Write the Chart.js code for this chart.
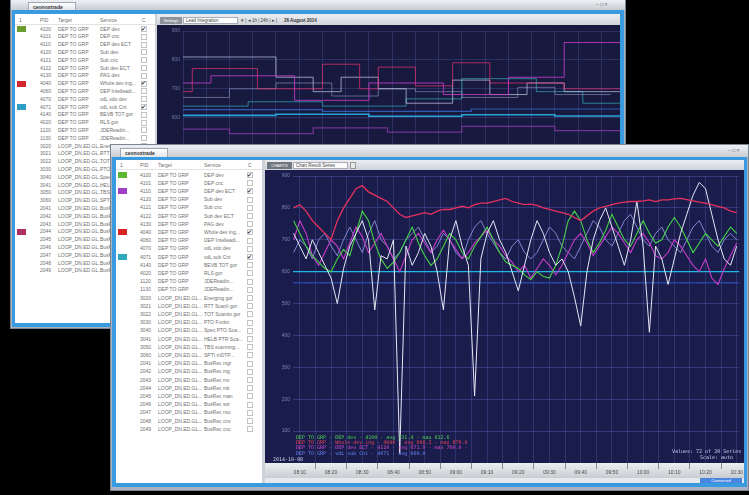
<!DOCTYPE html>
<html><head><meta charset="utf-8">
<script src="https://cdn.jsdelivr.net/npm/chart.js@4.4.1/dist/chart.umd.min.js"></script>
<style>
html,body{margin:0;padding:0;background:#000;width:749px;height:495px;overflow:hidden;font-family:"Liberation Sans",Arial,sans-serif;}
.abs{position:absolute;box-sizing:border-box;}
.chrome{background:#aab3bf;border:1px solid #7a8592;}
.title{background:linear-gradient(#eef0f3,#c8cdd4);}
.tab{background:linear-gradient(#ffffff,#e2e6ea);border:1px solid #9ea7b2;border-bottom:none;font-size:5px;font-weight:bold;color:#333;line-height:8px;padding:0 4px;white-space:nowrap;}
.blue{background:#3a9ae0;}
.white{background:#fff;}
.tool{background:linear-gradient(#eceef1,#cfd4da);}
.tbl{font-size:5px;color:#707070;line-height:5px;overflow:hidden;}
.tbl span{position:absolute;white-space:nowrap;}
.sw{position:absolute;width:9px;height:6px;}
.cb{position:absolute;width:6px;height:6px;border:1px solid #c4c4c4;box-sizing:border-box;background:#fff;}
.ck{position:absolute;font-size:6px;line-height:6px;color:#333;}
.leg{position:absolute;font-size:5px;line-height:5px;white-space:nowrap;font-family:"DejaVu Sans Mono",monospace;}
canvas{position:absolute;}
</style></head>
<body>
<!-- back window -->
<div class="abs chrome" style="left:10px;top:0;width:616px;height:329px;"></div>
<div class="abs title" style="left:11px;top:0;width:614px;height:10px;"></div>
<div class="abs tab" style="left:28px;top:2px;width:48px;height:8px;">ceonoxtrade</div>
<div class="abs" style="left:596px;top:1px;font-size:5px;color:#666;">–&nbsp;□&nbsp;×</div>
<div class="abs blue" style="left:12px;top:10px;width:612px;height:317px;"></div>
<div class="abs white tbl" id="t1" style="left:15px;top:14px;width:140px;height:309px;"></div>
<div class="abs" style="left:155px;top:14px;width:3px;height:309px;background:#cdd2d8;"></div>
<div class="abs tool" style="left:157px;top:14px;width:463px;height:11px;"></div>
<div class="abs" style="left:160px;top:17px;width:22px;height:7px;background:#8d939b;font-size:4px;color:#fff;line-height:7px;text-align:center;">Settings</div>
<div class="abs" style="left:183px;top:17px;width:55px;height:7px;background:#fff;border:1px solid #aab;font-size:4.5px;color:#444;line-height:5px;padding-left:2px;">Lead Integration</div>
<div class="abs" style="left:241px;top:17px;font-size:4.5px;color:#444;line-height:7px;">▾ | ◂ 1h | 24h | ▸ |</div>
<div class="abs" style="left:284px;top:17px;font-size:4.5px;color:#333;line-height:7px;font-weight:bold;">26 August 2014</div>
<canvas id="c1" width="463" height="272" style="left:157px;top:25px;"></canvas>

<!-- front window -->
<div class="abs chrome" style="left:110px;top:144px;width:639px;height:347px;"></div>
<div class="abs title" style="left:111px;top:145px;width:637px;height:12px;"></div>
<div class="abs tab" style="left:120px;top:148px;width:48px;height:9px;">ceonoxtrade</div>
<div class="abs" style="left:728px;top:147px;font-size:5px;color:#666;">–&nbsp;□&nbsp;×</div>
<div class="abs blue" style="left:112px;top:157px;width:635px;height:330px;"></div>
<div class="abs white tbl" id="t2" style="left:116px;top:160px;width:146px;height:323px;"></div>
<div class="abs" style="left:262px;top:160px;width:3px;height:323px;background:#cdd2d8;"></div>
<div class="abs tool" style="left:265px;top:160px;width:479px;height:10px;"></div>
<div class="abs" style="left:267px;top:162px;width:25px;height:7px;background:#70767e;font-size:4px;color:#fff;line-height:7px;text-align:center;">CHARTS</div>
<div class="abs" style="left:293px;top:162px;width:55px;height:7px;background:#fbfbfb;border:1px solid #aab;font-size:4.5px;color:#444;line-height:5px;padding-left:2px;">Chart Result Series</div>
<div class="abs" style="left:350px;top:162px;width:6px;height:7px;background:#e8e8e8;border:1px solid #999;"></div>
<canvas id="c2" width="479" height="308" style="left:265px;top:170px;"></canvas>
<div class="abs" style="left:265px;top:478px;width:479px;height:5px;background:#e6e8eb;"></div>
<div class="abs" style="left:700px;top:478px;width:42px;height:5px;background:#4a86e0;font-size:4px;line-height:5px;color:#fff;text-align:center;">Connected</div>

<div class="leg" style="left:296px;top:435px;color:#4fd04f;">DEP TO GRP · DEP dev · 4100 · avg 731.4 · max 812.6</div>
<div class="leg" style="left:296px;top:440px;color:#e8405a;">DEP TO GRP · Whole dev ing · 4040 · avg 806.2 · max 870.0</div>
<div class="leg" style="left:296px;top:445px;color:#d048c8;">DEP TO GRP · DEP dev ECT · 4110 · avg 671.9 · max 760.0 ·</div>
<div class="leg" style="left:296px;top:451px;color:#6a80f0;">DEP TO GRP · vdL sub Cnt · 4071 · avg 600.0</div>
<div class="leg" style="left:273px;top:457px;color:#d0d4f0;">2014-10-08</div>
<div class="leg" style="left:672px;top:449px;color:#c8ccf0;">Values: 72 of 20 Series</div>
<div class="leg" style="left:700px;top:455px;color:#c8ccf0;">Scale: auto</div>

<script>
// ---------------- data ----------------
const timeLabels = ['08:10','08:20','08:30','08:40','08:50','09:00','09:10','09:20','09:30','09:40','09:50','10:00','10:10','10:20','10:30'];
const yTickValues = [100,200,300,400,500,600,700,800,900];
const yTickLabels = ['100','200','300','400','500','600','700','800','900'];

const frontRed = [800,810,790,760,740, 720,700,760,800,830, 860,870,850,840,830, 820,800,780,770,775, 780,785,780,790,795, 795,800,805,800,810, 815,815,820,825,830, 820,815,810,812,808, 800,795,790,785,780, 770,760,775,790,800, 805,810,815,818,820, 820,822,825,820,825, 825,828,830,826,822, 818,815,810,805,800, 790,785];
const frontMagenta = [700,760,720,650,620, 660,700,680,640,690, 740,710,660,690,720, 680,640,600,650,700, 720,690,660,700,730, 700,670,640,660,690, 710,730,700,680,650, 630,600,620,580,610, 640,620,590,620,660, 700,720,690,650,680, 710,740,720,690,660, 700,720,690,650,640, 660,700,680,650,620, 600,640,580,560,610, 650,690];
const frontGreen = [760,720,680,650,630, 610,600,640,670,650, 720,790,760,690,640, 610,630,660,700,740, 690,650,620,640,680, 720,700,660,640,680, 710,740,700,660,630, 620,610,590,575,600, 585,580,620,680,760, 790,760,700,660,690, 730,780,740,700,680, 720,760,720,690,700, 740,770,740,700,660, 690,720,700,680,710, 740,720];
const frontWhite = [720,680,640,700,660, 620,580,500,610,680, 720,760,700,480,650, 640,700,30,680,620, 660,720,680,600,480, 700,760,680,620,210, 640,720,760,700,660, 600,540,620,700,760, 720,660,620,640,600, 520,430,600,700,760, 800,740,680,620,700, 820,680,410,680,640, 560,640,720,780,840, 880,860,780,700,640, 620,680];
const frontLavender = [660,700,680,640,700, 720,680,650,700,740, 700,660,720,760,700, 680,640,660,700,720, 740,700,660,680,720, 700,660,640,700,740, 760,720,690,660,640, 680,700,660,640,660, 700,740,720,680,660, 640,680,720,760,740, 700,680,720,760,780, 740,700,680,720,740, 700,680,660,700,740, 760,720,680,660,700, 720,700];
const cyanLevel = 600;
const blueLevel = 565;
const sampleStart = -2, sampleStep = 2;

const backWhite = [810,810,810,810,810,810,810,810,810,810,810, 740,740,740,740, 690,690,690, 740,740,740,740, 700,700,700, 650,650,650,650,650, 730,730,730,730, 680,680,680,680, 720,720,720,720, 690,690,690,690,690,690];
const backGrey = [670,670,670,670,670,670, 700,700,700,700,700, 720,720,720,720,720,720, 675,675,675,675,675, 700,700,700,700, 690,690,690,690,690, 670,670,670,670,670,670, 705,705,705,705, 680,680,680,680,680,680];
const backPink = [690,690, 770,770,770,770,770,770,770, 700,700,700,700,700,700,700, 785,785,785,785, 700,700, 775,775,775,775, 710,710,710,710, 790,790,790,790, 720,720,720,720,720,720,720,720, 700,700,700,700,700,700];
const backMagenta = [720,720,720,720, 745,745,745,745,745,745,745,745,745, 660,660,660,660,660,660,660,660, 720,720,720,720,720,720,720,720, 680,680,680,680,680,680,680, 740,740,740,740,740,740, 860,860,860,860,860,860];
const backTeal = [640,640,640,640,640,640,640,640, 655,655,655,655,655,655,655,655, 640,640,640,640,640,640,640,640,640, 665,665,665,665,665,665, 735,735,735,735,735,735,735,735, 690,690,690,690,690, 650,650,650,650];
const backCyan = [608,608,608,608,608,608,608,608,608,608,608, 612,612,612,612,612,612,612,612,612,612, 605,605,605,605,605,605,605,605,605,605, 610,610,610,610,610,610,610,610,610,610, 606,606,606,606,606,606,606];
const backBlue = [628,628,628,628,628,628,628,628,628,628,628,628,628,628,628,628, 622,622,622,622,622,622,622,622,622,622,622,622,622,622,622,622, 630,630,630,630,630,630,630,630,630,630,630,630,630,630,630,630];
const backPurple = [560,560,560,560,560,560, 545,545,545,545,545,545,545,545,545, 565,565,565,565,565,565,565,565, 550,550,550,550,550,550,550,550, 570,570,570,570,570,570,570,570,570,570, 555,555,555,555,555,555,555];

const pidList = ['4100','4101','4110','4120','4121','4122','4130','4040','4060','4070','4071','4140','4020','1120','1130','3020','3021','3022','3030','3040','3041','3050','3060','2041','2042','2043','2044','2045','2046','2047','2048','2049'];
const targetList = ['DEP TO GRP','DEP TO GRP','DEP TO GRP','DEP TO GRP','DEP TO GRP','DEP TO GRP','DEP TO GRP','DEP TO GRP','DEP TO GRP','DEP TO GRP','DEP TO GRP','DEP TO GRP','DEP TO GRP','DEP TO GRP','DEP TO GRP','LOOP_DN.ED.GL...','LOOP_DN.ED.GL...','LOOP_DN.ED.GL...','LOOP_DN.ED.GL...','LOOP_DN.ED.GL...','LOOP_DN.ED.GL...','LOOP_DN.ED.GL...','LOOP_DN.ED.GL...','LOOP_DN.ED.GL...','LOOP_DN.ED.GL...','LOOP_DN.ED.GL...','LOOP_DN.ED.GL...','LOOP_DN.ED.GL...','LOOP_DN.ED.GL...','LOOP_DN.ED.GL...','LOOP_DN.ED.GL...','LOOP_DN.ED.GL...'];
const serviceList = ['DEP dev','DEP cnc','DEP dev ECT','Sub dev','Sub cnc','Sub dev ECT','PAG dev','Whole dev ing...','DEP Intelleadi...','vdL vdo dev','vdL sub Cnt','BEVB TOT gor','RLS gor','JDEReadin...','JDEReadin...','Energing gor','RTT Scanli gor','TOT Scantio gor','PTO Fxxtio','Spec PTO Sca...','HELB PTR Sca...','TBS scanning...','SPTI mDTP...','BusRec mgr','BusRec mg','BusRec mv','BusRec mk','BusRec man','BusRec sor','BusRec nsc','BusRec cnv','BusRec cnc'];
const frontSwatches = {0:'#5cb82e',2:'#a040c8',7:'#d82424',10:'#2fa8bc'};
const frontChecks = [0,2,7,10];
const backSwatches = {0:'#6a9e2a',7:'#d0262e',10:'#2e9ec4',26:'#b03062'};
const backChecks = [0,7,10];

// ---------------- tables ----------------
function buildTable(id, cfg){
  const el = document.getElementById(id);
  let h = '';
  const hy = cfg.headY;
  h += `<span style="left:${cfg.cSw+2}px;top:${hy}px">1</span><span style="left:${cfg.cPid}px;top:${hy}px">PID</span><span style="left:${cfg.cTg}px;top:${hy}px">Target</span><span style="left:${cfg.cSv}px;top:${hy}px">Service</span><span style="left:${cfg.cCb+1}px;top:${hy}px">C</span>`;
  h += `<div style="position:absolute;left:0;right:0;top:${hy+6}px;height:1px;background:#e2e2e2"></div>`;
  for(let i=0;i<pidList.length;i++){
    const y = cfg.rowTop + i*cfg.rowH;
    if(cfg.sw[i]) h += `<div class="sw" style="left:${cfg.cSw}px;top:${y-0.5}px;background:${cfg.sw[i]}"></div>`;
    h += `<span style="left:${cfg.cPid}px;top:${y}px">${pidList[i]}</span>`;
    h += `<span style="left:${cfg.cTg}px;top:${y}px">${targetList[i]}</span>`;
    h += `<span style="left:${cfg.cSv}px;top:${y}px">${serviceList[i]}</span>`;
    h += `<div class="cb" style="left:${cfg.cCb}px;top:${y-0.5}px"></div>`;
    if(cfg.ck.includes(i)) h += `<div class="ck" style="left:${cfg.cCb}px;top:${y-1}px">✔</div>`;
  }
  el.innerHTML = h;
}
buildTable('t1',{headY:4,rowTop:12.5,rowH:7.8,cSw:2,cPid:25,cTg:43,cSv:85,cCb:126,sw:backSwatches,ck:backChecks});
buildTable('t2',{headY:3,rowTop:12.5,rowH:8.2,cSw:2,cPid:24,cTg:42,cSv:88,cCb:131,sw:frontSwatches,ck:frontChecks});

// ---------------- charts ----------------
const bgPlugin = {
  id:'bg',
  beforeDraw(c, args, opts){
    const {ctx, chartArea:a, width, height} = c;
    ctx.save();
    ctx.fillStyle = opts.navy;
    ctx.fillRect(0,0,width,height);
    if(opts.band){
      const g = ctx.createLinearGradient(0,a.bottom,0,height);
      g.addColorStop(0,'#eceef0'); g.addColorStop(1,'#c9cdd2');
      ctx.fillStyle = g;
      ctx.fillRect(0,a.bottom,width,height-a.bottom);
    }
    ctx.restore();
  }
};

function pts(arr){ return arr.map((v,i)=>({x:sampleStart+i*sampleStep, y:v})); }
const xMin = -2.2, xMax = 140.8;
const xLabelValues = timeLabels.map((t,k)=>k*10);
const xGridValues = [];
for(let v=0; v<=140; v+=5) xGridValues.push(v);

function line(data, color, w){ return {data, borderColor:color, borderWidth:w||1, pointRadius:0, tension:0, fill:false}; }

new Chart(document.getElementById('c2'), {
  type:'line',
  data:{datasets:[
    line(pts(frontRed), '#e8305e', 1.3),
    line(pts(frontWhite), '#e6e6f6', 1),
    line(pts(frontGreen), '#46d046', 1.1),
    line(pts(frontMagenta), '#c63cc6', 1.1),
    line(pts(frontLavender), '#8c92e0', 0.9),
    line([{x:xMin,y:cyanLevel},{x:xMax,y:cyanLevel}], '#22b6e4', 1.2),
    line([{x:xMin,y:blueLevel},{x:xMax,y:blueLevel}], '#3458c8', 1)
  ]},
  options:{
    responsive:false, animation:false, devicePixelRatio:1,
    layout:{padding:0},
    plugins:{legend:{display:false}, tooltip:{enabled:false}, bg:{navy:'#1a1d4c', band:true}},
    scales:{
      x:{type:'linear', min:xMin, max:xMax,
        afterBuildTicks(ax){ ax.ticks = xGridValues.map(v=>({value:v})); },
        afterFit(ax){ ax.height = 15; },
        ticks:{autoSkip:false, maxRotation:0, padding:1, color:'#4a4a4a', font:{size:5, family:'Liberation Sans'},
          callback(v){ const k = xLabelValues.indexOf(v); return k>=0 ? timeLabels[k] : ''; }},
        grid:{color:'rgba(72,82,150,0.45)', lineWidth:1, drawTicks:true, tickLength:6,
          tickColor(ctx){ return (ctx.tick && ctx.tick.value % 10 === 5) ? '#8a8a8a' : 'rgba(0,0,0,0)'; }},
        border:{display:false}
      },
      y:{min:0, max:900,
        afterBuildTicks(ax){ ax.ticks = yTickValues.map(v=>({value:v})); },
        afterFit(ax){ ax.width = 28; },
        ticks:{color:'#7c84b8', font:{size:5, family:'Liberation Sans'}, padding:3,
          callback(v){ return yTickLabels[yTickValues.indexOf(v)]; }},
        grid:{color:'rgba(78,88,165,0.5)', drawTicks:false},
        border:{display:false}
      }
    }
  },
  plugins:[bgPlugin]
});

const backGrid = [];
for(let v=0; v<=47; v+=2.5) backGrid.push(v);
function sline(arr, color, w){ return {data:arr.map((v,i)=>({x:i,y:v})), borderColor:color, borderWidth:w||1, pointRadius:0, stepped:'after', fill:false}; }

new Chart(document.getElementById('c1'), {
  type:'line',
  data:{datasets:[
    sline(backMagenta, 'rgba(200,60,200,0.85)', 1),
    sline(backPink, 'rgba(224,48,110,0.75)', 1),
    sline(backWhite, 'rgba(200,204,236,0.7)', 1),
    sline(backGrey, 'rgba(170,176,220,0.5)', 1),
    sline(backTeal, 'rgba(54,196,204,0.6)', 1),
    sline(backCyan, 'rgba(40,180,234,0.9)', 1.6),
    sline(backBlue, 'rgba(58,106,208,0.8)', 1.2),
    sline(backPurple, 'rgba(138,58,168,0.8)', 1.2)
  ]},
  options:{
    responsive:false, animation:false, devicePixelRatio:1,
    layout:{padding:0},
    plugins:{legend:{display:false}, tooltip:{enabled:false}, bg:{navy:'#17193f', band:false}},
    scales:{
      x:{type:'linear', min:0, max:47,
        afterBuildTicks(ax){ ax.ticks = backGrid.map(v=>({value:v})); },
        afterFit(ax){ ax.height = 0; },
        ticks:{display:false},
        grid:{color:'rgba(70,78,140,0.45)', drawTicks:false},
        border:{display:false}
      },
      y:{min:0, max:900,
        afterBuildTicks(ax){ ax.ticks = yTickValues.map(v=>({value:v})); },
        afterFit(ax){ ax.width = 26; },
        ticks:{color:'#7078a8', font:{size:5, family:'Liberation Sans'}, padding:3,
          callback(v){ return yTickLabels[yTickValues.indexOf(v)]; }},
        grid:{color:'rgba(70,78,140,0.45)', drawTicks:false},
        border:{display:false}
      }
    }
  },
  plugins:[bgPlugin]
});
</script>
</body></html>
